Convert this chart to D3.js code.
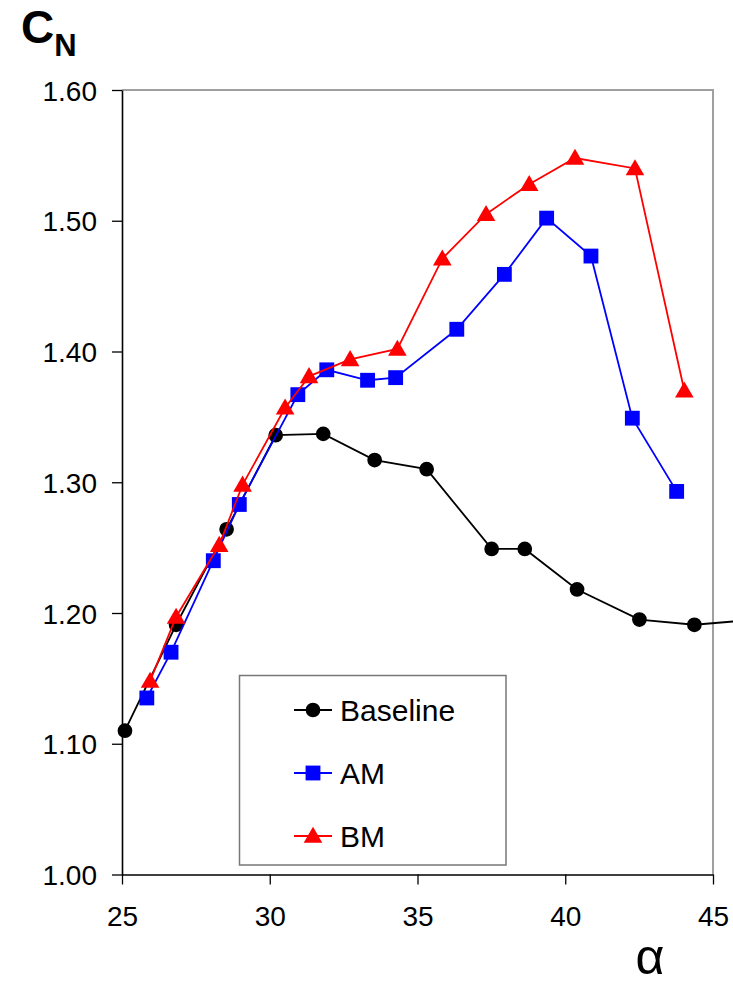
<!DOCTYPE html>
<html>
<head>
<meta charset="utf-8">
<script src="https://cdn.jsdelivr.net/npm/d3@7"></script>
<style>
  body { margin: 0; background: #fff; }
  svg { display: block; font-family: "Liberation Sans", Arial, sans-serif; }
</style>
</head>
<body>
<div id="container"></div>
<script>
/* CONSTANTS AND GLOBALS */
const width = 733,
  height = 985,
  margin = { top: 90, bottom: 110.5, left: 122, right: 20 };

/* DATA */
const xTicks = [25, 30, 35, 40, 45];
const yTicks = [1.0, 1.1, 1.2, 1.3, 1.4, 1.5, 1.6];

const baselineAlpha = [25.1, 26.83, 28.54, 30.2, 31.81, 33.55, 35.31, 37.51, 38.63, 40.4, 42.51, 44.37, 47.0];
const baselineCN = [1.110, 1.191, 1.264, 1.336, 1.337, 1.317, 1.310, 1.249, 1.249, 1.218, 1.195, 1.191, 1.196];

const amAlpha = [25.84, 26.66, 28.09, 28.97, 30.95, 31.93, 33.31, 34.26, 36.33, 37.94, 39.37, 40.87, 42.27, 43.77];
const amCN = [1.135, 1.170, 1.240, 1.283, 1.367, 1.386, 1.378, 1.380, 1.417, 1.459, 1.502, 1.473, 1.349, 1.293];

const bmAlpha = [25.95, 26.83, 28.29, 29.08, 30.52, 31.33, 32.72, 34.32, 35.84, 37.32, 38.78, 40.33, 42.36, 44.03];
const bmCN = [1.148, 1.197, 1.252, 1.298, 1.357, 1.381, 1.394, 1.402, 1.471, 1.505, 1.528, 1.548, 1.540, 1.370];

const seriesNames = ["Baseline", "AM", "BM"];
const seriesColors = ["#000000", "#0000ff", "#ff0000"];
const seriesSymbols = [d3.symbolCircle, d3.symbolSquare, d3.symbolTriangle];

const xs = [baselineAlpha, amAlpha, bmAlpha],
  ys = [baselineCN, amCN, bmCN];

const series = seriesNames.map((name, i) => ({
  name,
  color: seriesColors[i],
  symbol: seriesSymbols[i],
  values: xs[i].map((a, j) => ({ x: a, y: ys[i][j] }))
}));

/* SCALES */
const xScale = d3.scaleLinear()
  .domain([25, 45])
  .range([margin.left, 713]);

const yScale = d3.scaleLinear()
  .domain([1.0, 1.6])
  .range([height - margin.bottom, margin.top]);

/* SVG */
const svg = d3.select("#container")
  .append("svg")
  .attr("width", width)
  .attr("height", height);

// gray frame on top and right
svg.append("path")
  .attr("d", `M${xScale(25)},${yScale(1.6)}H${xScale(45)}V${yScale(1.0)}`)
  .attr("fill", "none")
  .attr("stroke", "#a0a0a0")
  .attr("stroke-width", 2);

// axes
const xAxis = d3.axisBottom(xScale)
  .tickValues(xTicks)
  .tickSize(10)
  .tickSizeOuter(0)
  .tickPadding(22);

const gx = svg.append("g")
  .attr("transform", `translate(0,${yScale(1.0)})`)
  .call(xAxis);

const yAxis = d3.axisLeft(yScale)
  .tickValues(yTicks)
  .tickSize(10)
  .tickSizeOuter(0)
  .tickPadding(15)
  .tickFormat(d3.format(".2f"));

const gy = svg.append("g")
  .attr("transform", `translate(${margin.left},0)`)
  .call(yAxis);

[gx, gy].forEach(g => {
  g.select(".domain").attr("stroke", "#000").attr("stroke-width", 1.6);
  g.selectAll(".tick line").attr("stroke", "#000").attr("stroke-width", 1.3);
  g.selectAll(".tick text")
    .attr("fill", "#000")
    .style("font-size", "28px");
});
gy.selectAll(".tick text").attr("dy", "0.36em");

// axis titles
const cn = svg.append("text")
  .attr("x", 21)
  .attr("y", 43)
  .style("font-weight", "bold")
  .style("font-size", "46px")
  .text("C");
cn.append("tspan")
  .attr("y", 56)
  .style("font-size", "31px")
  .text("N");

svg.append("text")
  .attr("x", 650)
  .attr("y", 974)
  .attr("text-anchor", "middle")
  .style("font-size", "50px")
  .text("α");

/* LINES AND MARKERS */
const line = d3.line()
  .x(d => xScale(d.x))
  .y(d => yScale(d.y));

const symbolSize = [170, 220, 150];

series.forEach((s, i) => {
  svg.append("path")
    .datum(s.values)
    .attr("fill", "none")
    .attr("stroke", s.color)
    .attr("stroke-width", 1.8)
    .attr("d", line);

  svg.selectAll(".pt" + i)
    .data(s.values)
    .join("path")
    .attr("class", "pt" + i)
    .attr("transform", d => `translate(${xScale(d.x)},${yScale(d.y) + (i === 2 ? 1.5 : 0)})`)
    .attr("d", d3.symbol().type(s.symbol).size(symbolSize[i]))
    .attr("fill", s.color);
});

/* LEGEND */
const legend = svg.append("g");
legend.append("rect")
  .attr("x", 239.5)
  .attr("y", 675.5)
  .attr("width", 266.5)
  .attr("height", 189.5)
  .attr("fill", "#fff")
  .attr("stroke", "#777")
  .attr("stroke-width", 1.5);

const rowY = [710, 773, 836];
series.forEach((s, i) => {
  const row = legend.append("g").attr("transform", `translate(0,${rowY[i]})`);
  row.append("line")
    .attr("x1", 294).attr("x2", 332)
    .attr("stroke", s.color)
    .attr("stroke-width", 1.8);
  row.append("path")
    .attr("transform", `translate(313,${i === 2 ? 1.5 : 0})`)
    .attr("d", d3.symbol().type(s.symbol).size(symbolSize[i]))
    .attr("fill", s.color);
  row.append("text")
    .attr("x", 340)
    .attr("dy", "0.36em")
    .style("font-size", "30px")
    .text(s.name);
});
</script>
</body>
</html>
